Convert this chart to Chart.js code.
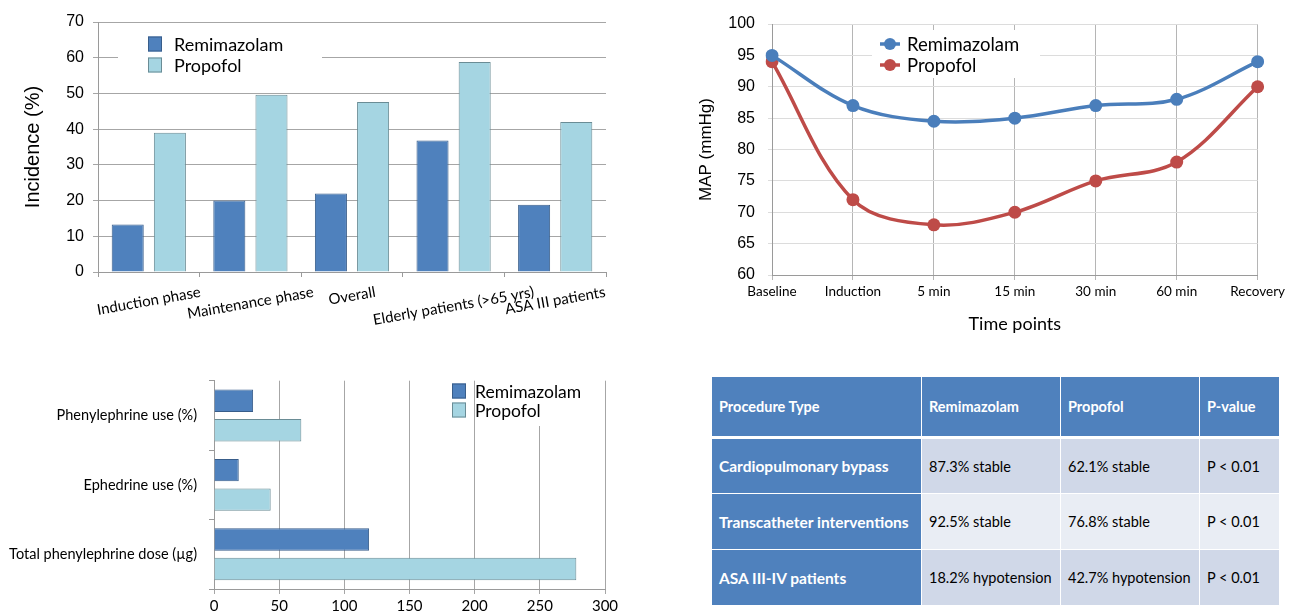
<!DOCTYPE html>
<html>
<head>
<meta charset="utf-8">
<script src="https://cdn.jsdelivr.net/npm/chart.js@4.4.0/dist/chart.umd.min.js"></script>
<style>
  html, body { margin: 0; padding: 0; background: #fff; }
  body { width: 1289px; height: 612px; position: relative; overflow: hidden; font-family: Lato, "Noto Sans", sans-serif; }
  .box { position: absolute; }
  #incBox { left: 0; top: 0; width: 620px; height: 340px; }
  #mapBox { left: 680px; top: 0; width: 609px; height: 340px; }
  #vasoBox { left: 0; top: 360px; width: 630px; height: 252px; }
  #procTable { position: absolute; left: 711px; top: 376px; width: 568px; border-collapse: collapse; table-layout: fixed; font-size: 14.5px; }
  #procTable td, #procTable th { border: 1px solid #fff; padding: 0 0 0 7px; text-align: left; box-sizing: border-box; }
  #procTable th { background: #4F81BD; color: #fff; font-weight: bold; height: 61px; border-bottom: 3px solid #fff; font-size: 14.5px; }
  #procTable td { height: 56px; color: #000; }
  #procTable td.first { background: #4F81BD; color: #fff; font-weight: bold; font-size: 15.5px; }
  #procTable tr.odd td { background: #D0D8E8; }
  #procTable tr.even td { background: #E9EDF4; }
  #procTable tr td.first { background: #4F81BD; }
</style>
</head>
<body>
<div class="box" id="incBox"><canvas id="incChart"></canvas></div>
<div class="box" id="mapBox"><canvas id="mapChart"></canvas></div>
<div class="box" id="vasoBox"><canvas id="vasoChart"></canvas></div>
<table id="procTable">
  <colgroup><col style="width:210px"><col style="width:139px"><col style="width:139px"><col style="width:80px"></colgroup>
  <thead></thead><tbody></tbody>
</table>
<script>
// incidence of hypotension (top left)
var incCategories = ['Induction phase', 'Maintenance phase', 'Overall', 'Elderly patients (>65 yrs)', 'ASA III patients'];
var incRemimazolam = [13.3, 20, 22, 36.8, 18.8];
var incPropofol = [39, 49.6, 47.6, 58.8, 42];

// MAP over time (top right)
var mapTimepoints = ['Baseline', 'Induction', '5 min', '15 min', '30 min', '60 min', 'Recovery'];
var mapRemimazolam = [95, 87, 84.5, 85, 87, 88, 94];
var mapPropofol = [94, 72, 68, 70, 75, 78, 90];

// vasopressor use (bottom left)
var vasoCategories = ['Phenylephrine use (%)', 'Ephedrine use (%)', 'Total phenylephrine dose (\u00b5g)'];
var vasoRemimazolam = [30, 19, 119];
var vasoPropofol = [67, 43.5, 278];

// table (bottom right)
var tableHeader = ['Procedure Type', 'Remimazolam', 'Propofol', 'P-value'];
var tableRows = [
  ['Cardiopulmonary bypass', '87.3% stable', '62.1% stable', 'P < 0.01'],
  ['Transcatheter interventions', '92.5% stable', '76.8% stable', 'P < 0.01'],
  ['ASA III-IV patients', '18.2% hypotension', '42.7% hypotension', 'P < 0.01']
];

var BLUE = '#4F81BD', BLUE_EDGE = '#385D8A';
var CYAN = '#A5D5E2', CYAN_EDGE = '#6A8C95';
var LINE_BLUE = '#4A7EBB', LINE_RED = '#BE4B48';
var CAL = 'Lato, "Noto Sans", sans-serif';
var ARIAL = '"Liberation Sans", Arial, sans-serif';

Chart.defaults.animation = false;
Chart.defaults.responsive = true;
Chart.defaults.maintainAspectRatio = false;
Chart.defaults.color = '#000';

// legend drawn inside the plot, over a white patch
var boxLegend = {
  id: 'boxLegend',
  beforeDatasetsDraw: function (chart, args, o) {
    var ctx = chart.ctx;
    ctx.save();
    if (o.bg) {
      ctx.fillStyle = '#fff';
      ctx.fillRect(o.bg[0], o.bg[1], o.bg[2], o.bg[3]);
    }
    ctx.font = o.font;
    ctx.textBaseline = 'middle';
    ctx.textAlign = 'left';
    chart.data.datasets.forEach(function (ds, i) {
      var y = o.y + i * o.rowH;
      if (o.marker === 'line') {
        ctx.strokeStyle = ds.borderColor;
        ctx.lineWidth = 3.5;
        ctx.beginPath(); ctx.moveTo(o.x - 10, y); ctx.lineTo(o.x + 10, y); ctx.stroke();
        ctx.fillStyle = ds.borderColor;
        ctx.beginPath(); ctx.arc(o.x, y, 6, 0, Math.PI * 2); ctx.fill();
      } else {
        ctx.fillStyle = ds.backgroundColor;
        ctx.fillRect(o.x - 7, y - 7.5, 14, 15);
        ctx.strokeStyle = ds.borderColor;
        ctx.lineWidth = 1;
        ctx.strokeRect(o.x - 7 + 0.5, y - 7.5 + 0.5, 13, 14);
      }
      ctx.fillStyle = '#000';
      ctx.fillText(ds.label, o.x + o.gap, y + 1);
    });
    ctx.restore();
  }
};

// slanted category labels, centred on each group, top of the slanted box kept level
var slantLabels = {
  id: 'slantLabels',
  afterDraw: function (chart, args, o) {
    var sc = chart.scales.x, ctx = chart.ctx;
    var a = o.angle * Math.PI / 180;
    ctx.save();
    ctx.font = o.font;
    ctx.fillStyle = '#000';
    ctx.textAlign = 'center';
    ctx.textBaseline = 'middle';
    chart.data.labels.forEach(function (lab, i) {
      var w = ctx.measureText(lab).width;
      var boxH = w * Math.sin(a) + o.lineH * Math.cos(a);
      ctx.save();
      ctx.translate(sc.getPixelForTick(i), sc.top + o.gapTop + boxH / 2);
      ctx.rotate(-a);
      ctx.fillText(lab, 0, 0);
      ctx.restore();
    });
    ctx.restore();
  }
};

new Chart(document.getElementById('incChart'), {
  type: 'bar',
  data: {
    labels: incCategories,
    datasets: [
      { label: 'Remimazolam', data: incRemimazolam, backgroundColor: BLUE, borderColor: BLUE_EDGE, borderWidth: 1 },
      { label: 'Propofol', data: incPropofol, backgroundColor: CYAN, borderColor: CYAN_EDGE, borderWidth: 1 }
    ]
  },
  options: {
    layout: { padding: { top: 22, right: 14, left: 0, bottom: 0 } },
    datasets: { bar: { categoryPercentage: 0.83, barPercentage: 0.76 } },
    plugins: {
      legend: { display: false },
      tooltip: { enabled: false },
      boxLegend: { x: 155, y: 44, rowH: 21, gap: 19, font: '18px ' + CAL, bg: [118, 28, 204, 52] },
      slantLabels: { font: '15px ' + CAL, angle: 10, lineH: 16, gapTop: 12 }
    },
    scales: {
      x: {
        ticks: { display: false },
        grid: { drawOnChartArea: false, tickLength: 5, color: '#9a9a9a' },
        border: { color: '#9a9a9a' },
        afterFit: function (s) { s.height = 68; }
      },
      y: {
        min: 0, max: 70,
        ticks: { stepSize: 10, font: { family: ARIAL, size: 16 }, padding: 9 },
        grid: { color: '#a6a6a6', tickLength: 5 },
        border: { color: '#9a9a9a' },
        title: { display: true, text: 'Incidence (%)', font: { family: ARIAL, size: 20 }, padding: { top: 21, bottom: 0 } },
        afterFit: function (s) { s.width = 98; }
      }
    }
  },
  plugins: [boxLegend, slantLabels]
});

new Chart(document.getElementById('mapChart'), {
  type: 'line',
  data: {
    labels: mapTimepoints,
    datasets: [
      { label: 'Remimazolam', data: mapRemimazolam, borderColor: LINE_BLUE, backgroundColor: LINE_BLUE, borderWidth: 3.5, tension: 0.35, pointRadius: 6.5, pointBorderWidth: 0, pointBackgroundColor: LINE_BLUE },
      { label: 'Propofol', data: mapPropofol, borderColor: LINE_RED, backgroundColor: LINE_RED, borderWidth: 3.5, tension: 0.35, pointRadius: 6.5, pointBorderWidth: 0, pointBackgroundColor: LINE_RED }
    ]
  },
  options: {
    layout: { padding: { top: 24, right: 29, left: 0, bottom: 0 } },
    plugins: {
      legend: { display: false },
      tooltip: { enabled: false },
      boxLegend: { x: 210, y: 44, rowH: 21, gap: 17, font: '18.5px ' + CAL, marker: 'line', bg: [192, 30, 168, 48] }
    },
    scales: {
      x: {
        ticks: { font: { family: CAL, size: 13.5 }, padding: 4, maxRotation: 0 },
        grid: { color: '#b5b5b5', tickLength: 5 },
        border: { color: '#9a9a9a' },
        title: { display: true, text: 'Time points', font: { family: CAL, size: 18 }, padding: { top: 0, bottom: 5 } },
        afterFit: function (s) { s.height = 65; }
      },
      y: {
        min: 60, max: 100,
        ticks: { stepSize: 5, font: { family: ARIAL, size: 16 }, padding: 13 },
        grid: { color: '#dcdcdc', tickLength: 4 },
        border: { color: '#9a9a9a' },
        title: { display: true, text: 'MAP (mmHg)', font: { family: ARIAL, size: 17 }, padding: { top: 16, bottom: 0 } },
        afterFit: function (s) { s.width = 92; }
      }
    }
  },
  plugins: [boxLegend]
});

new Chart(document.getElementById('vasoChart'), {
  type: 'bar',
  data: {
    labels: vasoCategories,
    datasets: [
      { label: 'Remimazolam', data: vasoRemimazolam, backgroundColor: BLUE, borderColor: BLUE_EDGE, borderWidth: 1 },
      { label: 'Propofol', data: vasoPropofol, backgroundColor: CYAN, borderColor: CYAN_EDGE, borderWidth: 1 }
    ]
  },
  options: {
    indexAxis: 'y',
    layout: { padding: { top: 14, right: 25, left: 0, bottom: 0 } },
    datasets: { bar: { categoryPercentage: 0.85, barPercentage: 0.76 } },
    plugins: {
      legend: { display: false },
      tooltip: { enabled: false },
      boxLegend: { x: 459, y: 31, rowH: 19, gap: 16, font: '17.5px ' + CAL, bg: [477, 20, 112, 46] }
    },
    scales: {
      x: {
        min: 0, max: 300,
        ticks: { stepSize: 50, font: { family: CAL, size: 15 }, padding: 3, maxRotation: 0 },
        grid: { color: '#a6a6a6', tickLength: 5 },
        border: { color: '#9a9a9a' },
        afterFit: function (s) { s.height = 23; }
      },
      y: {
        ticks: { font: { family: CAL, size: 14.5 }, padding: 12 },
        grid: { drawOnChartArea: false, tickLength: 5, color: '#9a9a9a' },
        border: { color: '#9a9a9a' },
        afterFit: function (s) { s.width = 214; }
      }
    }
  },
  plugins: [boxLegend]
});

// table
var thead = document.querySelector('#procTable thead');
var tbody = document.querySelector('#procTable tbody');
var hr = document.createElement('tr');
tableHeader.forEach(function (h) {
  var th = document.createElement('th');
  th.textContent = h;
  hr.appendChild(th);
});
thead.appendChild(hr);
tableRows.forEach(function (row, r) {
  var tr = document.createElement('tr');
  tr.className = r % 2 === 0 ? 'odd' : 'even';
  row.forEach(function (v, c) {
    var td = document.createElement('td');
    td.textContent = v;
    if (c === 0) td.className = 'first';
    tr.appendChild(td);
  });
  tbody.appendChild(tr);
});
</script>
</body>
</html>
